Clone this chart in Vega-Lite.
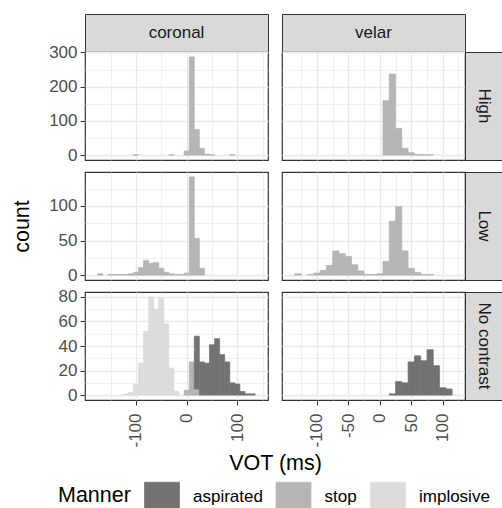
{
  "$schema": "https://vega.github.io/schema/vega-lite/v6.json",
  "padding": {"left": 11, "top": 13, "right": 1, "bottom": 0},
  "config": {
    "font": "Liberation Sans",
    "view": {"stroke": "#333333", "strokeWidth": 1.2},
    "bar": {"strokeWidth": 0.7},
    "axis": {"domain": false, "grid": true, "gridColor": "#e9e9e9", "tickColor": "#333333", "tickSize": 5, "labelColor": "#4d4d4d", "labelFontSize": 17, "labelFont": "Liberation Sans", "labelPadding": 3, "titleFontSize": 21.5, "titleFontWeight": "normal", "titleColor": "#000000", "titleFont": "Liberation Sans"},
    "legend": {"symbolType": "M-1,-0.86H1V0.86H-1Z", "symbolSize": 1225, "symbolStrokeWidth": 0, "labelFontSize": 17, "labelColor": "#000000", "labelFont": "Liberation Sans", "titleFontSize": 21.5, "titleFontWeight": "normal", "titleColor": "#000000", "titleFont": "Liberation Sans", "labelOffset": 13, "columnPadding": 11.5, "titlePadding": 13, "padding": 0}
  },
  "datasets": {
    "hist": [
      {"place": "coronal", "cond": "High", "manner": "stop", "lo": -105, "hi": -95, "count": 1},
      {"place": "coronal", "cond": "High", "manner": "stop", "lo": -35, "hi": -25, "count": 1},
      {"place": "coronal", "cond": "High", "manner": "stop", "lo": -5, "hi": 5, "count": 12},
      {"place": "coronal", "cond": "High", "manner": "stop", "lo": 5, "hi": 15, "count": 287},
      {"place": "coronal", "cond": "High", "manner": "stop", "lo": 15, "hi": 25, "count": 75},
      {"place": "coronal", "cond": "High", "manner": "stop", "lo": 25, "hi": 35, "count": 20},
      {"place": "coronal", "cond": "High", "manner": "stop", "lo": 35, "hi": 45, "count": 3},
      {"place": "coronal", "cond": "High", "manner": "stop", "lo": 45, "hi": 55, "count": 1},
      {"place": "coronal", "cond": "High", "manner": "stop", "lo": 85, "hi": 95, "count": 1},
      {"place": "velar", "cond": "High", "manner": "stop", "lo": 5, "hi": 15, "count": 159},
      {"place": "velar", "cond": "High", "manner": "stop", "lo": 15, "hi": 25, "count": 237},
      {"place": "velar", "cond": "High", "manner": "stop", "lo": 25, "hi": 35, "count": 78},
      {"place": "velar", "cond": "High", "manner": "stop", "lo": 35, "hi": 45, "count": 20},
      {"place": "velar", "cond": "High", "manner": "stop", "lo": 45, "hi": 55, "count": 7},
      {"place": "velar", "cond": "High", "manner": "stop", "lo": 55, "hi": 65, "count": 2},
      {"place": "velar", "cond": "High", "manner": "stop", "lo": 65, "hi": 75, "count": 1},
      {"place": "velar", "cond": "High", "manner": "stop", "lo": 75, "hi": 85, "count": 1},
      {"place": "coronal", "cond": "Low", "manner": "stop", "lo": -175, "hi": -165, "count": 2},
      {"place": "coronal", "cond": "Low", "manner": "stop", "lo": -155, "hi": -145, "count": 1},
      {"place": "coronal", "cond": "Low", "manner": "stop", "lo": -145, "hi": -135, "count": 1},
      {"place": "coronal", "cond": "Low", "manner": "stop", "lo": -135, "hi": -125, "count": 1},
      {"place": "coronal", "cond": "Low", "manner": "stop", "lo": -125, "hi": -115, "count": 1},
      {"place": "coronal", "cond": "Low", "manner": "stop", "lo": -115, "hi": -105, "count": 2},
      {"place": "coronal", "cond": "Low", "manner": "stop", "lo": -105, "hi": -95, "count": 4},
      {"place": "coronal", "cond": "Low", "manner": "stop", "lo": -95, "hi": -85, "count": 11},
      {"place": "coronal", "cond": "Low", "manner": "stop", "lo": -85, "hi": -75, "count": 21},
      {"place": "coronal", "cond": "Low", "manner": "stop", "lo": -75, "hi": -65, "count": 17},
      {"place": "coronal", "cond": "Low", "manner": "stop", "lo": -65, "hi": -55, "count": 18},
      {"place": "coronal", "cond": "Low", "manner": "stop", "lo": -55, "hi": -45, "count": 10},
      {"place": "coronal", "cond": "Low", "manner": "stop", "lo": -45, "hi": -35, "count": 4},
      {"place": "coronal", "cond": "Low", "manner": "stop", "lo": -35, "hi": -25, "count": 2},
      {"place": "coronal", "cond": "Low", "manner": "stop", "lo": -25, "hi": -15, "count": 1},
      {"place": "coronal", "cond": "Low", "manner": "stop", "lo": -15, "hi": -5, "count": 1},
      {"place": "coronal", "cond": "Low", "manner": "stop", "lo": -5, "hi": 5, "count": 3},
      {"place": "coronal", "cond": "Low", "manner": "stop", "lo": 5, "hi": 15, "count": 142},
      {"place": "coronal", "cond": "Low", "manner": "stop", "lo": 15, "hi": 25, "count": 53},
      {"place": "coronal", "cond": "Low", "manner": "stop", "lo": 25, "hi": 35, "count": 10},
      {"place": "velar", "cond": "Low", "manner": "stop", "lo": -135, "hi": -125, "count": 2},
      {"place": "velar", "cond": "Low", "manner": "stop", "lo": -115, "hi": -105, "count": 1},
      {"place": "velar", "cond": "Low", "manner": "stop", "lo": -105, "hi": -95, "count": 3},
      {"place": "velar", "cond": "Low", "manner": "stop", "lo": -95, "hi": -85, "count": 7},
      {"place": "velar", "cond": "Low", "manner": "stop", "lo": -85, "hi": -75, "count": 14},
      {"place": "velar", "cond": "Low", "manner": "stop", "lo": -75, "hi": -65, "count": 35},
      {"place": "velar", "cond": "Low", "manner": "stop", "lo": -65, "hi": -55, "count": 31},
      {"place": "velar", "cond": "Low", "manner": "stop", "lo": -55, "hi": -45, "count": 27},
      {"place": "velar", "cond": "Low", "manner": "stop", "lo": -45, "hi": -35, "count": 15},
      {"place": "velar", "cond": "Low", "manner": "stop", "lo": -35, "hi": -25, "count": 6},
      {"place": "velar", "cond": "Low", "manner": "stop", "lo": -25, "hi": -15, "count": 1},
      {"place": "velar", "cond": "Low", "manner": "stop", "lo": -15, "hi": -5, "count": 1},
      {"place": "velar", "cond": "Low", "manner": "stop", "lo": -5, "hi": 5, "count": 2},
      {"place": "velar", "cond": "Low", "manner": "stop", "lo": 5, "hi": 15, "count": 20},
      {"place": "velar", "cond": "Low", "manner": "stop", "lo": 15, "hi": 25, "count": 78},
      {"place": "velar", "cond": "Low", "manner": "stop", "lo": 25, "hi": 35, "count": 99},
      {"place": "velar", "cond": "Low", "manner": "stop", "lo": 35, "hi": 45, "count": 35},
      {"place": "velar", "cond": "Low", "manner": "stop", "lo": 45, "hi": 55, "count": 10},
      {"place": "velar", "cond": "Low", "manner": "stop", "lo": 55, "hi": 65, "count": 4},
      {"place": "velar", "cond": "Low", "manner": "stop", "lo": 65, "hi": 75, "count": 1},
      {"place": "velar", "cond": "Low", "manner": "stop", "lo": 75, "hi": 85, "count": 1},
      {"place": "coronal", "cond": "No contrast", "manner": "implosive", "lo": -125, "hi": -115, "count": 1},
      {"place": "coronal", "cond": "No contrast", "manner": "implosive", "lo": -115, "hi": -105, "count": 2},
      {"place": "coronal", "cond": "No contrast", "manner": "implosive", "lo": -105, "hi": -95, "count": 9},
      {"place": "coronal", "cond": "No contrast", "manner": "implosive", "lo": -95, "hi": -85, "count": 26},
      {"place": "coronal", "cond": "No contrast", "manner": "implosive", "lo": -85, "hi": -75, "count": 52},
      {"place": "coronal", "cond": "No contrast", "manner": "implosive", "lo": -75, "hi": -65, "count": 80},
      {"place": "coronal", "cond": "No contrast", "manner": "implosive", "lo": -65, "hi": -55, "count": 70},
      {"place": "coronal", "cond": "No contrast", "manner": "implosive", "lo": -55, "hi": -45, "count": 79},
      {"place": "coronal", "cond": "No contrast", "manner": "implosive", "lo": -45, "hi": -35, "count": 58},
      {"place": "coronal", "cond": "No contrast", "manner": "implosive", "lo": -35, "hi": -25, "count": 22},
      {"place": "coronal", "cond": "No contrast", "manner": "implosive", "lo": -25, "hi": -15, "count": 3},
      {"place": "coronal", "cond": "No contrast", "manner": "stop", "lo": -5, "hi": 5, "count": 4},
      {"place": "coronal", "cond": "No contrast", "manner": "stop", "lo": 5, "hi": 15, "count": 27},
      {"place": "coronal", "cond": "No contrast", "manner": "stop", "lo": 15, "hi": 25, "count": 5},
      {"place": "coronal", "cond": "No contrast", "manner": "aspirated", "lo": 15, "hi": 25, "count": 43},
      {"place": "coronal", "cond": "No contrast", "manner": "aspirated", "lo": 25, "hi": 35, "count": 27},
      {"place": "coronal", "cond": "No contrast", "manner": "aspirated", "lo": 35, "hi": 45, "count": 26},
      {"place": "coronal", "cond": "No contrast", "manner": "aspirated", "lo": 45, "hi": 55, "count": 41},
      {"place": "coronal", "cond": "No contrast", "manner": "aspirated", "lo": 55, "hi": 65, "count": 46},
      {"place": "coronal", "cond": "No contrast", "manner": "aspirated", "lo": 65, "hi": 75, "count": 33},
      {"place": "coronal", "cond": "No contrast", "manner": "aspirated", "lo": 75, "hi": 85, "count": 27},
      {"place": "coronal", "cond": "No contrast", "manner": "aspirated", "lo": 85, "hi": 95, "count": 10},
      {"place": "coronal", "cond": "No contrast", "manner": "aspirated", "lo": 95, "hi": 105, "count": 9},
      {"place": "coronal", "cond": "No contrast", "manner": "aspirated", "lo": 105, "hi": 115, "count": 3},
      {"place": "coronal", "cond": "No contrast", "manner": "aspirated", "lo": 115, "hi": 125, "count": 1},
      {"place": "coronal", "cond": "No contrast", "manner": "aspirated", "lo": 125, "hi": 135, "count": 1},
      {"place": "velar", "cond": "No contrast", "manner": "aspirated", "lo": 15, "hi": 25, "count": 1},
      {"place": "velar", "cond": "No contrast", "manner": "aspirated", "lo": 25, "hi": 35, "count": 11},
      {"place": "velar", "cond": "No contrast", "manner": "aspirated", "lo": 35, "hi": 45, "count": 10},
      {"place": "velar", "cond": "No contrast", "manner": "aspirated", "lo": 45, "hi": 55, "count": 27},
      {"place": "velar", "cond": "No contrast", "manner": "aspirated", "lo": 55, "hi": 65, "count": 32},
      {"place": "velar", "cond": "No contrast", "manner": "aspirated", "lo": 65, "hi": 75, "count": 28},
      {"place": "velar", "cond": "No contrast", "manner": "aspirated", "lo": 75, "hi": 85, "count": 37},
      {"place": "velar", "cond": "No contrast", "manner": "aspirated", "lo": 85, "hi": 95, "count": 24},
      {"place": "velar", "cond": "No contrast", "manner": "aspirated", "lo": 95, "hi": 105, "count": 6},
      {"place": "velar", "cond": "No contrast", "manner": "aspirated", "lo": 105, "hi": 115, "count": 5}
    ],
    "colstrips": [{"label": "coronal"}, {"label": "velar"}],
    "rowstrips": [{"label": "High"}, {"label": "Low"}, {"label": "No contrast"}],
    "none": []
  },
  "columns": 4,
  "spacing": 0,
  "bounds": "flush",
  "align": "each",
  "concat": [
    {"width": 183, "height": 38, "data": {"name": "colstrips"}, "transform": [{"filter": "datum.label === 'coronal'"}], "mark": {"type": "text", "fontSize": 17, "color": "#1a1a1a"}, "encoding": {"text": {"field": "label"}}, "view": {"fill": "#d9d9d9", "stroke": "#333333"}},
    {"width": 14, "height": 1, "data": {"name": "none"}, "mark": "point", "encoding": {}, "view": {"stroke": null}},
    {"width": 183, "height": 38, "data": {"name": "colstrips"}, "transform": [{"filter": "datum.label === 'velar'"}], "mark": {"type": "text", "fontSize": 17, "color": "#1a1a1a"}, "encoding": {"text": {"field": "label"}}, "view": {"fill": "#d9d9d9", "stroke": "#333333"}},
    {"width": 1, "height": 1, "data": {"name": "none"}, "mark": "point", "encoding": {}, "view": {"stroke": null}},

    {"width": 183, "height": 108, "data": {"name": "hist"}, "transform": [{"filter": "datum.place === 'coronal' && datum.cond === 'High'"}], "mark": {"type": "bar", "orient": "vertical"},
     "encoding": {
       "x": {"field": "lo", "type": "quantitative", "scale": {"domain": [-190.5, 150.5], "nice": false, "zero": false}, "axis": {"values": [-150, -100, -50, 0, 50, 100, 150], "labels": false, "ticks": false, "title": null, "gridWidth": {"condition": {"test": "datum.value % 100 !== 0", "value": 0.7}, "value": 1.3}}},
       "x2": {"field": "hi"},
       "y": {"field": "count", "type": "quantitative", "stack": "zero", "scale": {"domain": [-14.35, 301.35], "nice": false, "zero": false}, "axis": {"values": [0, 50, 100, 150, 200, 250, 300], "labelExpr": "datum.value % 100 === 0 ? '' + datum.value : ''", "tickOpacity": {"condition": {"test": "datum.value % 100 !== 0", "value": 0}, "value": 1}, "gridWidth": {"condition": {"test": "datum.value % 100 !== 0", "value": 0.7}, "value": 1.3}, "title": null}},
       "color": {"field": "manner", "type": "nominal", "title": "Manner", "scale": {"domain": ["aspirated", "stop", "implosive"], "range": ["#727272", "#b5b5b5", "#dcdcdc"]}, "legend": {"orient": "none", "legendX": -27, "legendY": 465, "direction": "horizontal", "titleOrient": "left"}},
       "stroke": {"field": "manner", "type": "nominal", "scale": {"domain": ["aspirated", "stop", "implosive"], "range": ["#727272", "#b5b5b5", "#dcdcdc"]}, "legend": null},
       "order": {"field": "manner", "sort": "descending"}
     }},
    {"width": 14, "height": 1, "data": {"name": "none"}, "mark": "point", "encoding": {}, "view": {"stroke": null}},
    {"width": 183, "height": 108, "data": {"name": "hist"}, "transform": [{"filter": "datum.place === 'velar' && datum.cond === 'High'"}], "mark": {"type": "bar", "orient": "vertical"},
     "encoding": {
       "x": {"field": "lo", "type": "quantitative", "scale": {"domain": [-147.5, 127.5], "nice": false, "zero": false}, "axis": {"values": [-125, -100, -75, -50, -25, 0, 25, 50, 75, 100, 125], "labels": false, "ticks": false, "title": null, "gridWidth": {"condition": {"test": "datum.value % 50 !== 0", "value": 0.7}, "value": 1.3}}},
       "x2": {"field": "hi"},
       "y": {"field": "count", "type": "quantitative", "stack": "zero", "scale": {"domain": [-14.35, 301.35], "nice": false, "zero": false}, "axis": {"values": [0, 50, 100, 150, 200, 250, 300], "labels": false, "ticks": false, "gridWidth": {"condition": {"test": "datum.value % 100 !== 0", "value": 0.7}, "value": 1.3}, "title": null}},
       "color": {"field": "manner", "type": "nominal", "title": "Manner", "scale": {"domain": ["aspirated", "stop", "implosive"], "range": ["#727272", "#b5b5b5", "#dcdcdc"]}, "legend": {"orient": "none", "legendX": -27, "legendY": 465, "direction": "horizontal", "titleOrient": "left"}},
       "stroke": {"field": "manner", "type": "nominal", "scale": {"domain": ["aspirated", "stop", "implosive"], "range": ["#727272", "#b5b5b5", "#dcdcdc"]}, "legend": null},
       "order": {"field": "manner", "sort": "descending"}
     }},
    {"width": 37, "height": 108, "data": {"name": "rowstrips"}, "transform": [{"filter": "datum.label === 'High'"}], "mark": {"type": "text", "fontSize": 17, "color": "#1a1a1a", "angle": 90}, "encoding": {"text": {"field": "label"}}, "view": {"fill": "#d9d9d9", "stroke": "#333333"}},

    {"width": 1, "height": 12, "data": {"name": "none"}, "mark": "point", "encoding": {}, "view": {"stroke": null}},
    {"width": 1, "height": 12, "data": {"name": "none"}, "mark": "point", "encoding": {}, "view": {"stroke": null}},
    {"width": 1, "height": 12, "data": {"name": "none"}, "mark": "point", "encoding": {}, "view": {"stroke": null}},
    {"width": 1, "height": 12, "data": {"name": "none"}, "mark": "point", "encoding": {}, "view": {"stroke": null}},

    {"width": 183, "height": 108, "data": {"name": "hist"}, "transform": [{"filter": "datum.place === 'coronal' && datum.cond === 'Low'"}], "mark": {"type": "bar", "orient": "vertical"},
     "encoding": {
       "x": {"field": "lo", "type": "quantitative", "scale": {"domain": [-190.5, 150.5], "nice": false, "zero": false}, "axis": {"values": [-150, -100, -50, 0, 50, 100, 150], "labels": false, "ticks": false, "title": null, "gridWidth": {"condition": {"test": "datum.value % 100 !== 0", "value": 0.7}, "value": 1.3}}},
       "x2": {"field": "hi"},
       "y": {"field": "count", "type": "quantitative", "stack": "zero", "scale": {"domain": [-7.1, 149.1], "nice": false, "zero": false}, "axis": {"values": [0, 25, 50, 75, 100, 125], "labelExpr": "datum.value % 50 === 0 ? '' + datum.value : ''", "tickOpacity": {"condition": {"test": "datum.value % 50 !== 0", "value": 0}, "value": 1}, "gridWidth": {"condition": {"test": "datum.value % 50 !== 0", "value": 0.7}, "value": 1.3}, "title": "count", "titlePadding": 15}},
       "color": {"field": "manner", "type": "nominal", "title": "Manner", "scale": {"domain": ["aspirated", "stop", "implosive"], "range": ["#727272", "#b5b5b5", "#dcdcdc"]}, "legend": {"orient": "none", "legendX": -27, "legendY": 465, "direction": "horizontal", "titleOrient": "left"}},
       "stroke": {"field": "manner", "type": "nominal", "scale": {"domain": ["aspirated", "stop", "implosive"], "range": ["#727272", "#b5b5b5", "#dcdcdc"]}, "legend": null},
       "order": {"field": "manner", "sort": "descending"}
     }},
    {"width": 14, "height": 1, "data": {"name": "none"}, "mark": "point", "encoding": {}, "view": {"stroke": null}},
    {"width": 183, "height": 108, "data": {"name": "hist"}, "transform": [{"filter": "datum.place === 'velar' && datum.cond === 'Low'"}], "mark": {"type": "bar", "orient": "vertical"},
     "encoding": {
       "x": {"field": "lo", "type": "quantitative", "scale": {"domain": [-147.5, 127.5], "nice": false, "zero": false}, "axis": {"values": [-125, -100, -75, -50, -25, 0, 25, 50, 75, 100, 125], "labels": false, "ticks": false, "title": null, "gridWidth": {"condition": {"test": "datum.value % 50 !== 0", "value": 0.7}, "value": 1.3}}},
       "x2": {"field": "hi"},
       "y": {"field": "count", "type": "quantitative", "stack": "zero", "scale": {"domain": [-7.1, 149.1], "nice": false, "zero": false}, "axis": {"values": [0, 25, 50, 75, 100, 125], "labels": false, "ticks": false, "gridWidth": {"condition": {"test": "datum.value % 50 !== 0", "value": 0.7}, "value": 1.3}, "title": null}},
       "color": {"field": "manner", "type": "nominal", "title": "Manner", "scale": {"domain": ["aspirated", "stop", "implosive"], "range": ["#727272", "#b5b5b5", "#dcdcdc"]}, "legend": {"orient": "none", "legendX": -27, "legendY": 465, "direction": "horizontal", "titleOrient": "left"}},
       "stroke": {"field": "manner", "type": "nominal", "scale": {"domain": ["aspirated", "stop", "implosive"], "range": ["#727272", "#b5b5b5", "#dcdcdc"]}, "legend": null},
       "order": {"field": "manner", "sort": "descending"}
     }},
    {"width": 37, "height": 108, "data": {"name": "rowstrips"}, "transform": [{"filter": "datum.label === 'Low'"}], "mark": {"type": "text", "fontSize": 17, "color": "#1a1a1a", "angle": 90}, "encoding": {"text": {"field": "label"}}, "view": {"fill": "#d9d9d9", "stroke": "#333333"}},

    {"width": 1, "height": 12, "data": {"name": "none"}, "mark": "point", "encoding": {}, "view": {"stroke": null}},
    {"width": 1, "height": 12, "data": {"name": "none"}, "mark": "point", "encoding": {}, "view": {"stroke": null}},
    {"width": 1, "height": 12, "data": {"name": "none"}, "mark": "point", "encoding": {}, "view": {"stroke": null}},
    {"width": 1, "height": 12, "data": {"name": "none"}, "mark": "point", "encoding": {}, "view": {"stroke": null}},

    {"width": 183, "height": 108, "data": {"name": "hist"}, "transform": [{"filter": "datum.place === 'coronal' && datum.cond === 'No contrast'"}], "mark": {"type": "bar", "orient": "vertical"},
     "encoding": {
       "x": {"field": "lo", "type": "quantitative", "scale": {"domain": [-190.5, 150.5], "nice": false, "zero": false}, "axis": {"values": [-150, -100, -50, 0, 50, 100, 150], "labelExpr": "datum.value % 100 === 0 ? '' + datum.value : ''", "labelAngle": 270, "labelPadding": 8, "tickOpacity": {"condition": {"test": "datum.value % 100 !== 0", "value": 0}, "value": 1}, "gridWidth": {"condition": {"test": "datum.value % 100 !== 0", "value": 0.7}, "value": 1.3}, "title": "VOT (ms)", "titleX": 190, "titlePadding": 5}},
       "x2": {"field": "hi"},
       "y": {"field": "count", "type": "quantitative", "stack": "zero", "scale": {"domain": [-4, 84], "nice": false, "zero": false}, "axis": {"values": [0, 10, 20, 30, 40, 50, 60, 70, 80], "labelExpr": "datum.value % 20 === 0 ? '' + datum.value : ''", "tickOpacity": {"condition": {"test": "datum.value % 20 !== 0", "value": 0}, "value": 1}, "gridWidth": {"condition": {"test": "datum.value % 20 !== 0", "value": 0.7}, "value": 1.3}, "title": null}},
       "color": {"field": "manner", "type": "nominal", "title": "Manner", "scale": {"domain": ["aspirated", "stop", "implosive"], "range": ["#727272", "#b5b5b5", "#dcdcdc"]}, "legend": {"orient": "none", "legendX": -27, "legendY": 465, "direction": "horizontal", "titleOrient": "left"}},
       "stroke": {"field": "manner", "type": "nominal", "scale": {"domain": ["aspirated", "stop", "implosive"], "range": ["#727272", "#b5b5b5", "#dcdcdc"]}, "legend": null},
       "order": {"field": "manner", "sort": "descending"}
     }},
    {"width": 14, "height": 1, "data": {"name": "none"}, "mark": "point", "encoding": {}, "view": {"stroke": null}},
    {"width": 183, "height": 108, "data": {"name": "hist"}, "transform": [{"filter": "datum.place === 'velar' && datum.cond === 'No contrast'"}], "mark": {"type": "bar", "orient": "vertical"},
     "encoding": {
       "x": {"field": "lo", "type": "quantitative", "scale": {"domain": [-147.5, 127.5], "nice": false, "zero": false}, "axis": {"values": [-125, -100, -75, -50, -25, 0, 25, 50, 75, 100, 125], "labelExpr": "datum.value % 50 === 0 ? '' + datum.value : ''", "labelAngle": 270, "labelPadding": 8, "tickOpacity": {"condition": {"test": "datum.value % 50 !== 0", "value": 0}, "value": 1}, "gridWidth": {"condition": {"test": "datum.value % 50 !== 0", "value": 0.7}, "value": 1.3}, "title": null}},
       "x2": {"field": "hi"},
       "y": {"field": "count", "type": "quantitative", "stack": "zero", "scale": {"domain": [-4, 84], "nice": false, "zero": false}, "axis": {"values": [0, 10, 20, 30, 40, 50, 60, 70, 80], "labels": false, "ticks": false, "gridWidth": {"condition": {"test": "datum.value % 20 !== 0", "value": 0.7}, "value": 1.3}, "title": null}},
       "color": {"field": "manner", "type": "nominal", "title": "Manner", "scale": {"domain": ["aspirated", "stop", "implosive"], "range": ["#727272", "#b5b5b5", "#dcdcdc"]}, "legend": {"orient": "none", "legendX": -27, "legendY": 465, "direction": "horizontal", "titleOrient": "left"}},
       "stroke": {"field": "manner", "type": "nominal", "scale": {"domain": ["aspirated", "stop", "implosive"], "range": ["#727272", "#b5b5b5", "#dcdcdc"]}, "legend": null},
       "order": {"field": "manner", "sort": "descending"}
     }},
    {"width": 37, "height": 108, "data": {"name": "rowstrips"}, "transform": [{"filter": "datum.label === 'No contrast'"}], "mark": {"type": "text", "fontSize": 17, "color": "#1a1a1a", "angle": 90}, "encoding": {"text": {"field": "label"}}, "view": {"fill": "#d9d9d9", "stroke": "#333333"}}
  ]
}
